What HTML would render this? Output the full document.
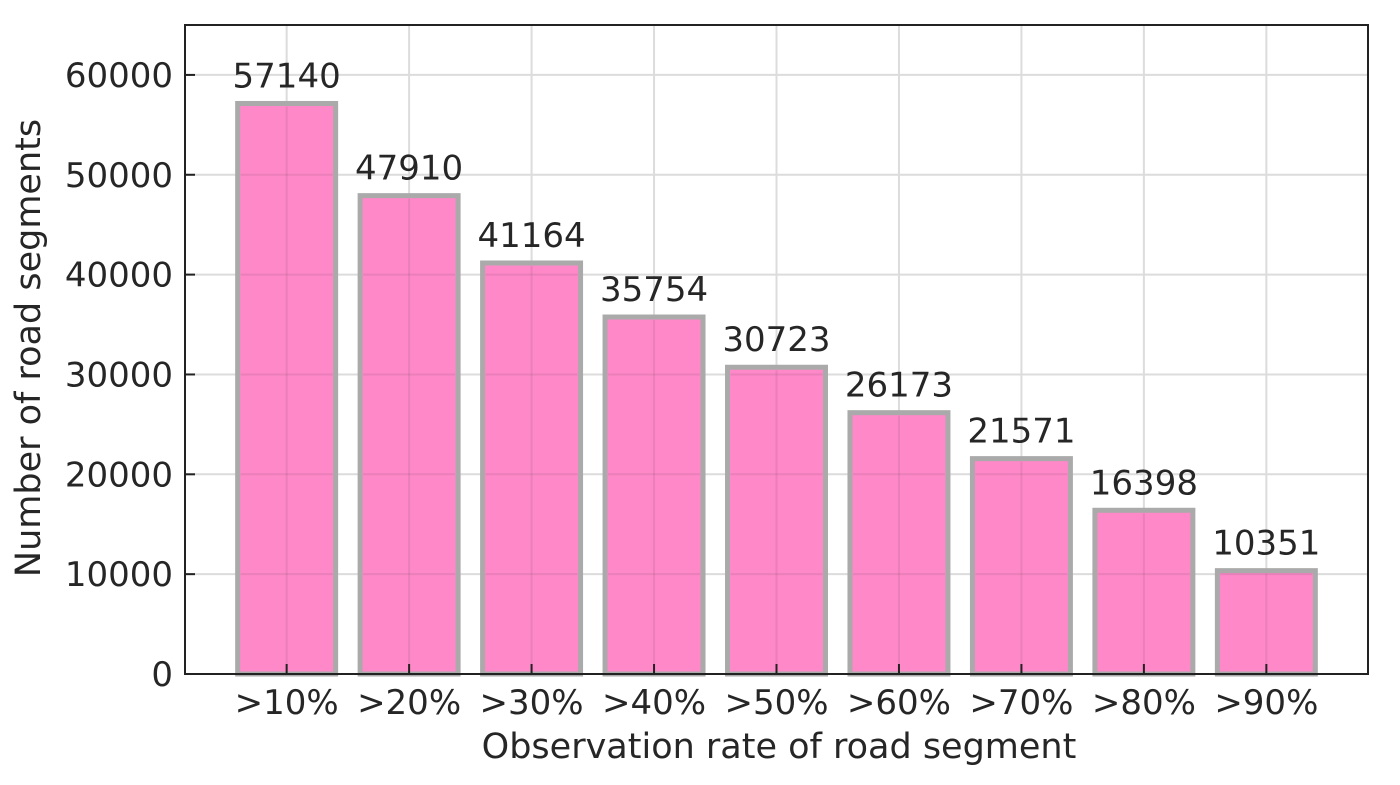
<!DOCTYPE html>
<html><head><meta charset="utf-8"><style>
body{margin:0;background:#fff;}
svg text{font-family:"DejaVu Sans","Liberation Sans",sans-serif;fill:#262626;}
</style></head><body>
<svg id="chart" width="1400" height="780">
<g id="grid"></g>
<g id="bars"></g>
<g id="gridtop"></g>
<g id="labels"></g>
<g id="axes"></g>
<text x="779" y="758" font-size="35" text-anchor="middle">Observation rate of road segment</text>
<text transform="translate(40,348) rotate(-90)" font-size="35" text-anchor="middle">Number of road segments</text>
</svg>
<script>
const categories=[">10%",">20%",">30%",">40%",">50%",">60%",">70%",">80%",">90%"];
const values=[57140,47910,41164,35754,30723,26173,21571,16398,10351];
const yTicks=[0,10000,20000,30000,40000,50000,60000];
const L=185,R=1368,T=25,B=674;
const xMin=-0.83,xMax=8.83,yMax=65000;
const xs=i=>L+(i-xMin)/(xMax-xMin)*(R-L);
const ys=v=>B-v/yMax*(B-T);
const step=xs(1)-xs(0),bw=step*0.8;
const NS="http://www.w3.org/2000/svg";
function mk(tag,attrs,parent,txt){const e=document.createElementNS(NS,tag);for(const k in attrs)e.setAttribute(k,attrs[k]);if(txt!==undefined)e.textContent=txt;document.getElementById(parent).appendChild(e);return e;}
yTicks.forEach(v=>{const e=mk('line',{x1:L,x2:R,y1:ys(v),y2:ys(v),stroke:'#dcdcdc','stroke-width':2},'grid');

});
categories.forEach((c,i)=>{const e=mk('line',{x1:xs(i),x2:xs(i),y1:T,y2:B,stroke:'#dcdcdc','stroke-width':2},'grid');

});
values.forEach((v,i)=>{const r=mk('rect',{x:xs(i)-bw/2,y:ys(v),width:bw,height:B-ys(v),fill:'#ff88c8',stroke:'#aaa','stroke-width':5},'bars');


const t=mk('text',{x:xs(i),y:ys(v)-16,'font-size':34,'text-anchor':'middle'},'labels',String(v));

});
values.forEach((v,i)=>{const x0=xs(i)-bw/2+3,x1=xs(i)+bw/2-3;
yTicks.filter(t=>t>0&&t<v).forEach(t=>{const e=mk('line',{x1:x0,x2:x1,y1:ys(t),y2:ys(t),stroke:'rgba(140,90,120,0.18)','stroke-width':2},'gridtop');

});
const e=mk('line',{x1:xs(i),x2:xs(i),y1:ys(v)+3,y2:B,stroke:'rgba(140,90,120,0.18)','stroke-width':2},'gridtop');

});
const f=mk('rect',{x:L,y:T,width:R-L,height:B-T,fill:'none',stroke:'#222','stroke-width':2},'axes');


yTicks.forEach(v=>{mk('line',{x1:L,x2:L+10,y1:ys(v),y2:ys(v),stroke:'#222','stroke-width':2},'axes');
const t=mk('text',{x:L-12,y:ys(v)+12,'font-size':34,'text-anchor':'end'},'axes',String(v));

});
categories.forEach((c,i)=>{mk('line',{x1:xs(i),x2:xs(i),y1:B,y2:B-10,stroke:'#222','stroke-width':2},'axes');
const t=mk('text',{x:xs(i),y:B+40,'font-size':34,'text-anchor':'middle'},'axes',c);

});
</script>
</body></html>
